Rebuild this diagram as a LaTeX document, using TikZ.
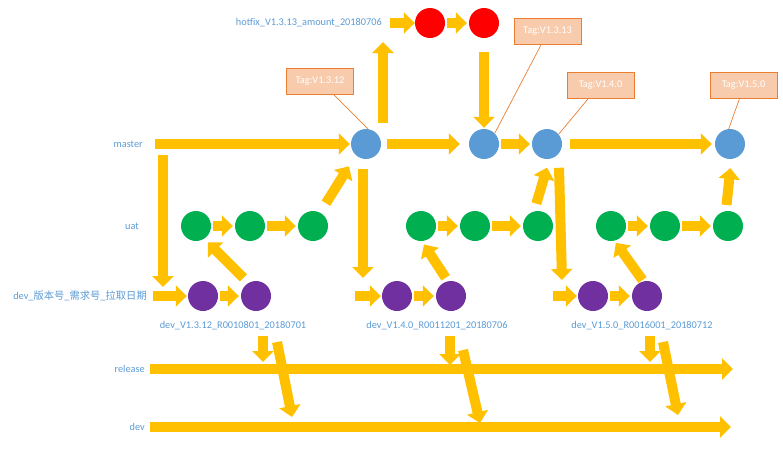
\documentclass[tikz,border=0pt]{standalone}
\usepackage{fontspec}
\setmainfont{Carlito}
\newfontfamily\cjk{Noto Sans CJK SC}
\usetikzlibrary{arrows.meta}

\definecolor{flowyellow}{HTML}{FFC000}
\definecolor{labelblue}{HTML}{5B9BD5}
\definecolor{masterblue}{HTML}{5B9BD5}
\definecolor{uatgreen}{HTML}{00B050}
\definecolor{devpurple}{HTML}{7030A0}
\definecolor{tagfill}{HTML}{F8CBAD}
\definecolor{tagedge}{HTML}{ED7D31}

\tikzset{
    commit/.style={circle, minimum size=30pt, inner sep=0pt},
    branch/.style={text=labelblue, inner sep=0pt},
    flow/.style={draw=flowyellow, line width=10pt, -{Triangle[width=21pt,length=11pt]}},
    gap/.style={shorten <=2pt, shorten >=2pt},
    tagbox/.style={draw=tagedge, fill=tagfill, text=white, minimum width=67pt, minimum height=26pt, inner sep=0pt, line width=0.9pt},
    tagline/.style={draw=tagedge, line width=0.7pt}
}

\begin{document}
\begin{tikzpicture}[x=1pt, y=-1pt, font=\fontsize{10.3}{12}\selectfont]
    \useasboundingbox (0,0) rectangle (783,448);

    % branch labels
    \node[branch, anchor=east] (hotfix) at (382,23) {hotfix\_V1.3.13\_amount\_20180706};
    \node[branch, anchor=east] (master) at (143,144) {master};
    \node[branch, anchor=east] (uat) at (139,226) {uat};
    \node[branch, anchor=east] (devlbl) at (147,296) {dev\_{\cjk 版本号}\_{\cjk 需求号}\_{\cjk 拉取日期}};
    \node[branch] (B1) at (233,326) {dev\_V1.3.12\_R0010801\_20180701};
    \node[branch] (B2) at (437,326) {dev\_V1.4.0\_R0011201\_20180706};
    \node[branch] (B3) at (642,326) {dev\_V1.5.0\_R0016001\_20180712};
    \node[branch, anchor=east] (release) at (145,369) {release};
    \node[branch, anchor=east] (devb) at (145,427) {dev};

    % commits
    \foreach \n/\x in {M1/366, M2/484, M3/547, M4/730}
        \node[commit, fill=masterblue] (\n) at (\x,144) {};
    \foreach \n/\x in {H1/430, H2/484}
        \node[commit, fill=red] (\n) at (\x,23) {};
    \foreach \n/\x in {G1/196, G2/250, G3/313, G4/421, G5/475, G6/538, G7/611, G8/665, G9/728}
        \node[commit, fill=uatgreen] (\n) at (\x,226) {};
    \foreach \n/\x in {P1/203, P2/256, P3/397, P4/451, P5/593, P6/647}
        \node[commit, fill=devpurple] (\n) at (\x,296) {};

    % tags
    \node[tagbox] (T1) at (320,81) {Tag:V1.3.12};
    \node[tagbox] (T2) at (547.5,31) {Tag:V1.3.13};
    \node[tagbox] (T3) at (600.5,85.5) {Tag:V1.4.0};
    \node[tagbox] (T4) at (743.5,85.5) {Tag:V1.5.0};
    \draw[tagline] (T1.-45) -- (M1.82);
    \draw[tagline] (T2.-115) -- (M2.45);
    \draw[tagline] (T3.-133) -- (M3.40);
    \draw[tagline] (T4.-107) -- (M4.95);

    % free ends
    \coordinate (f1a) at (163,155);
    \coordinate (f1b) at (163,287);
    \coordinate (f2) at (363,278);
    \coordinate (f3) at (562,280);
    \coordinate (hf) at (383,42);
    \coordinate (d2) at (355,296);
    \coordinate (d3) at (553,296);
    \coordinate (relend) at (733,369);
    \coordinate (devend) at (731,427);
    \coordinate (r1) at (263,362);
    \coordinate (r2) at (450,365);
    \coordinate (r3) at (650,362);
    \coordinate (s1) at (277,342);
    \coordinate (e1) at (292,417);
    \coordinate (s2) at (463,350);
    \coordinate (e2) at (480,423);
    \coordinate (s3) at (663,342);
    \coordinate (e3) at (678,415);

    % master and hotfix
    \draw[flow, shorten <=12pt, shorten >=1pt] (master) -- (M1);
    \draw[flow, shorten <=6pt, shorten >=9pt] (M1) -- (M2);
    \draw[flow, shorten <=8pt, shorten >=3pt] (M3) -- (M4);
    \draw[flow, shorten <=6pt] (M1.north -| hf) -- (hf);
    \draw[flow, shorten <=8pt] (hotfix) -- (H1);
    \draw[flow, shorten <=14pt, shorten >=1pt] (H2) -- (M2);
    \foreach \a/\b in {H1/H2, M2/M3, P1/P2, G1/G2, G2/G3, P3/P4, G4/G5, G5/G6, P5/P6, G7/G8, G8/G9}
        \draw[flow, gap] (\a) -- (\b);

    % dev branches
    \draw[flow] (f1a) -- (f1b);
    \draw[flow, shorten <=6pt, shorten >=1pt] (devlbl) -- (P1);
    \draw[flow, shorten <=10pt] (M1.south -| f2) -- (f2);
    \draw[flow, shorten >=1pt] (d2) -- (P3);
    \draw[flow, shorten <=14pt] (M3.-40) -- (f3);
    \draw[flow, shorten >=1pt] (d3) -- (P5);

    % merges up
    \draw[flow, shorten <=7pt, shorten >=5pt] (P2.120) -- (G1.-57);
    \draw[flow, shorten <=11pt, shorten >=13pt] (G3.62) -- (M1.-132);
    \draw[flow, shorten <=4pt, shorten >=4pt] (P4.102) -- (G4.-87);
    \draw[flow, shorten <=8pt, shorten >=9pt] (G6.105) -- (M3.-80);
    \draw[flow, shorten <=1.5pt, shorten >=2.5pt] (P6.104) -- (G7.-77);
    \draw[flow, shorten <=6pt, shorten >=9pt] (G9.98) -- (M4.-85);

    % release and dev
    \draw[flow, shorten <=5pt] (release) -- (relend);
    \draw[flow, shorten <=5pt] (devb) -- (devend);
    \draw[flow, shorten <=6pt] (B1.south -| r1) -- (r1);
    \draw[flow, shorten <=6pt] (B2.south -| r2) -- (r2);
    \draw[flow, shorten <=6pt] (B3.south -| r3) -- (r3);
    \draw[flow] (s1) -- (e1);
    \draw[flow] (s2) -- (e2);
    \draw[flow] (s3) -- (e3);
\end{tikzpicture}
\end{document}
